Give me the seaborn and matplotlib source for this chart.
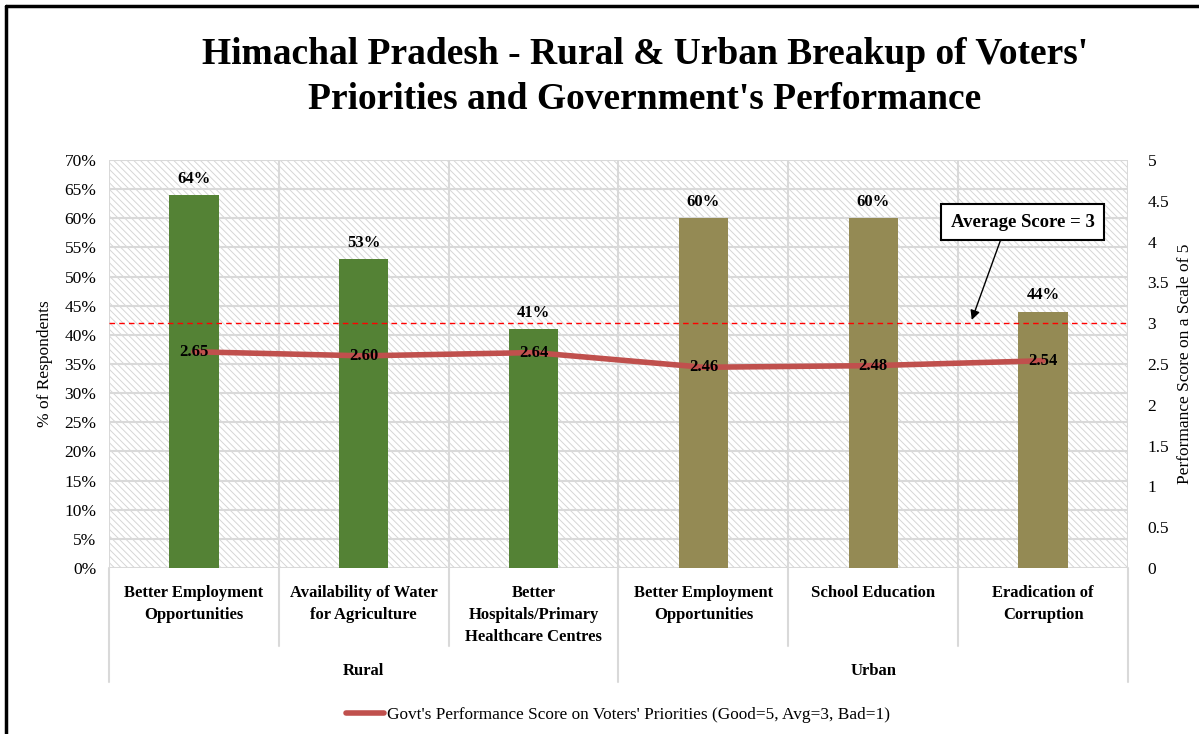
import matplotlib
matplotlib.use("Agg")
import matplotlib.pyplot as plt
import seaborn as sns
import pandas as pd
import numpy as np
from matplotlib.patches import Rectangle
from matplotlib.lines import Line2D

# ---- data ----
categories = ["Better Employment\nOpportunities",
              "Availability of Water\nfor Agriculture",
              "Better\nHospitals/Primary\nHealthcare Centres",
              "Better Employment\nOpportunities",
              "School Education",
              "Eradication of\nCorruption"]
groups = ["Rural", "Rural", "Rural", "Urban", "Urban", "Urban"]
respondents_pct = [64, 53, 41, 60, 60, 44]
perf_score = [2.65, 2.60, 2.64, 2.46, 2.48, 2.54]
average_score = 3
left_ticks = list(range(0, 71, 5))
right_ticks = [0, 0.5, 1, 1.5, 2, 2.5, 3, 3.5, 4, 4.5, 5]
title = "Himachal Pradesh - Rural & Urban Breakup of Voters'\nPriorities and Government's Performance"
legend_label = "Govt's Performance Score on Voters' Priorities (Good=5, Avg=3, Bad=1)"

sns.set_theme(style="white")
plt.rcParams['font.family'] = ['Liberation Serif', 'DejaVu Serif']
plt.rcParams['hatch.linewidth'] = 0.7
for k in ['text.color', 'axes.labelcolor', 'xtick.color', 'ytick.color']:
    plt.rcParams[k] = 'black'

df = pd.DataFrame({"pos": list(range(len(categories))), "group": groups,
                   "pct": respondents_pct, "score": perf_score})

W, H = 1199, 734
fig = plt.figure(figsize=(W / 100, H / 100), dpi=100)
fig.patch.set_facecolor("white")
L, R, T, B = 109, 1128, 160, 568
ax = fig.add_axes([L / W, 1 - B / H, (R - L) / W, (B - T) / H])

# hatched background
ax.add_patch(Rectangle((0, 0), 1, 1, transform=ax.transAxes, facecolor="white",
                       edgecolor="#d6d6d6", hatch="\\" * 5, lw=0, zorder=0.1))

palette = {"Rural": "#548235", "Urban": "#948A54"}
sns.barplot(data=df, x="pos", y="pct", hue="group", palette=palette, dodge=False,
            width=0.29, ax=ax, legend=False, zorder=2, saturation=1, linewidth=0)

ax.set_ylim(0, 70)
ax.set_xlim(-0.5, len(categories) - 0.5)
ax.set_yticks(left_ticks)
ax.set_yticklabels([f"{t}%" for t in left_ticks], fontsize=12.5)
ax.tick_params(axis="y", length=0, pad=9)
ax.tick_params(axis="x", length=0, pad=12)
ax.set_xticks(range(len(categories)))
ax.set_xticklabels(categories, fontsize=12, fontweight="bold", linespacing=1.5, va="top")
ax.set_xlabel("")
ax.set_ylabel("% of Respondents", fontsize=12.5, labelpad=8)
for s in ax.spines.values():
    s.set_visible(False)
ax.grid(axis="y", color="#d9d9d9", lw=1.5, zorder=0.5)
ax.set_axisbelow(True)
for xb in np.arange(-0.5, len(categories), 1.0):
    ax.axvline(xb, color="#d9d9d9", lw=1.5, zorder=0.5)

# bar labels
for p, v in zip(df["pos"], df["pct"]):
    ax.annotate(f"{v}%", (p, v), xytext=(0, 6), textcoords="offset points",
                ha="center", va="bottom", fontsize=12, fontweight="bold", zorder=5)

# separators below plot
trans = ax.get_xaxis_transform()
for i, xb in enumerate(np.arange(-0.5, len(categories), 1.0)):
    y0 = -0.279 if i in (0, 3, 6) else -0.191
    ax.add_line(Line2D([xb, xb], [0, y0], transform=trans, color="#d9d9d9",
                       lw=1.5, clip_on=False))

# group labels
for g in ["Rural", "Urban"]:
    idx = [i for i, gg in enumerate(groups) if gg == g]
    ax.text(np.mean(idx), -0.252, g, transform=trans, ha="center", va="center",
            fontsize=12, fontweight="bold")

# secondary axis
ax2 = ax.twinx()
sns.lineplot(data=df, x="pos", y="score", ax=ax2, color="#C0504D", lw=4,
             label=legend_label, legend=False, zorder=3)
ax2.set_ylim(0, 5)
ax2.set_yticks(right_ticks)
ax2.set_yticklabels([f"{t:g}" for t in right_ticks], fontsize=12.5)
ax2.tick_params(axis="y", length=0, pad=14)
ax2.set_ylabel("Performance Score on a Scale of 5", fontsize=12.5, labelpad=6)
for s in ax2.spines.values():
    s.set_visible(False)
ax2.axhline(average_score, color="#FF0000", lw=1, ls=(0, (4, 3)), zorder=4)
for p, v in zip(df["pos"], df["score"]):
    ax2.text(p, v, f"{v:.2f}", ha="center", va="center", fontsize=12,
             fontweight="bold", zorder=6)

ax2.annotate(f"Average Score = {average_score}", xy=(4.58, average_score + 0.04),
             xytext=(4.88, 4.24), ha="center", va="center", fontsize=13.5,
             fontweight="bold",
             bbox=dict(boxstyle="square,pad=0.5", fc="white", ec="black", lw=1.5),
             arrowprops=dict(arrowstyle="-|>", color="black", lw=1,
                             mutation_scale=14, shrinkA=0, shrinkB=0,
                             relpos=(0.37, 0)), zorder=7)

# title
fig.text(645 / W, 1 - 77 / H, title, ha="center", va="center", fontsize=27,
         fontweight="bold", linespacing=1.38)

# legend
handle = Line2D([], [], color="#C0504D", lw=4)
fig.legend([handle], [legend_label], loc="center", bbox_to_anchor=(618 / W, 1 - 715 / H),
           frameon=False, fontsize=12.4, handlelength=2.2, handletextpad=0.2)

# figure border (top and left)
fig.add_artist(Line2D([6 / W, 6 / W], [0, 1 - 6 / H], transform=fig.transFigure,
                      color="black", lw=2.5))
fig.add_artist(Line2D([6 / W, 1], [1 - 6 / H, 1 - 6 / H], transform=fig.transFigure,
                      color="black", lw=2.5))

fig.savefig("out.png", dpi=100)
